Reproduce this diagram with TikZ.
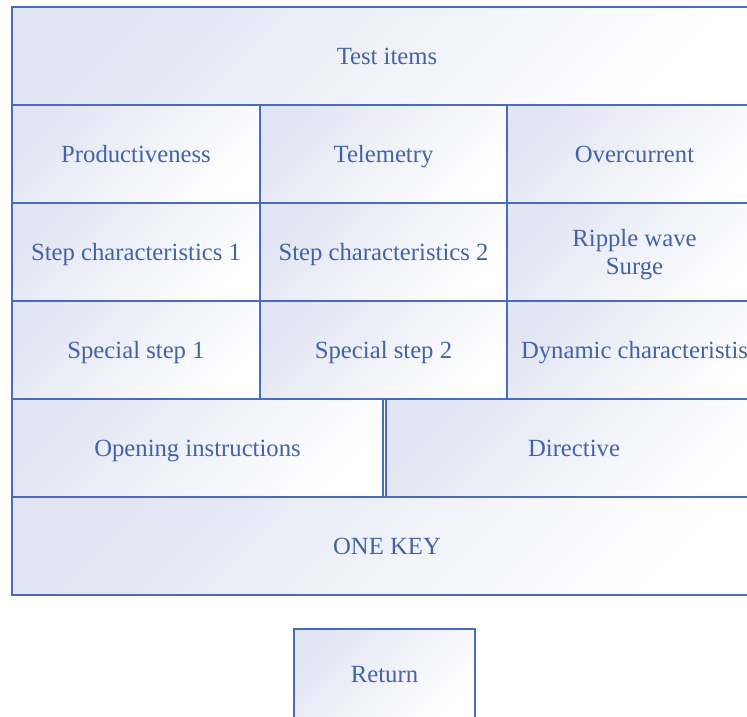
\documentclass[tikz,border=0pt]{standalone}
\usepackage{fontspec}
\setmainfont{Liberation Serif}
\usepackage{tikz}
\usetikzlibrary{positioning}
\definecolor{cellline}{HTML}{4A6CBF}
\definecolor{celltext}{HTML}{4262AA}
\definecolor{cellshade}{HTML}{E2E5F3}
\tikzset{cell/.style={rectangle, draw=cellline, line width=1.8pt, anchor=north west,
    inner sep=0pt, outer sep=0pt, minimum height=98pt, align=center,
    text height=21pt, text depth=5pt,
    text=celltext, font=\fontsize{24.7}{28}\selectfont,
    top color=cellshade, bottom color=white, shading angle=45}}

\begin{document}
\begin{tikzpicture}[x=1pt,y=-1pt]
\path[use as bounding box, clip] (0,0) rectangle (747,716);
\node[cell, minimum width=750pt] (items) at (12,7) {Test items};
\node[cell, minimum width=248pt] (prod) at (12,105) {Productiveness};
\node[cell, minimum width=247pt] (tele) at (260,105) {Telemetry};
\node[cell, minimum width=255pt] (over) at (507,105) {Overcurrent};
\node[cell, minimum width=248pt] (step1) at (12,203) {Step characteristics 1};
\node[cell, minimum width=247pt] (step2) at (260,203) {Step characteristics 2};
\node[cell, minimum width=255pt, text height=49pt] (ripple) at (507,203) {Ripple wave\\Surge};
\node[cell, minimum width=248pt] (spec1) at (12,301) {Special step 1};
\node[cell, minimum width=247pt] (spec2) at (260,301) {Special step 2};
\node[cell, minimum width=255pt] (dyn) at (507,301) {Dynamic characteristis};
\node[cell, minimum width=371pt] (open) at (12,399) {Opening instructions};
\node[cell, minimum width=376pt] (dir) at (386,399) {Directive};
\node[cell, minimum width=750pt] (onekey) at (12,497) {ONE KEY};
\node[cell, minimum width=181pt, minimum height=90pt] (ret) at (294,629) {Return};
\end{tikzpicture}
\end{document}
